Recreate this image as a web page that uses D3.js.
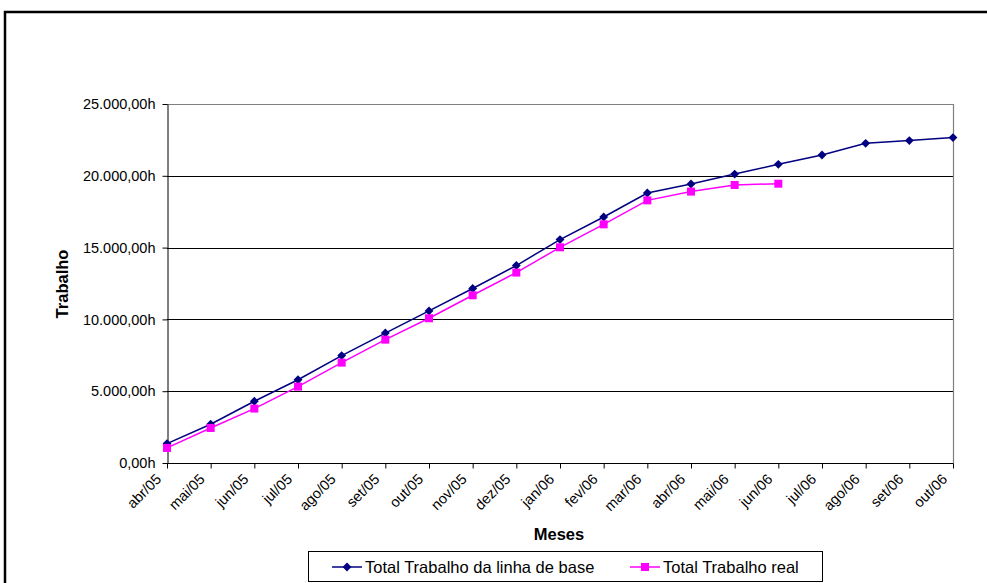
<!DOCTYPE html>
<html>
<head>
<meta charset="utf-8">
<script src="https://cdn.jsdelivr.net/npm/d3@7/dist/d3.min.js"></script>
<style>
  html, body { margin: 0; padding: 0; background: #fff; }
  svg { display: block; font-family: "Liberation Sans", Arial, sans-serif; }
</style>
</head>
<body>
<svg id="chart" width="987" height="583"></svg>
<script>
// Monthly cumulative work hours
const months = ["abr/05","mai/05","jun/05","jul/05","ago/05","set/05","out/05","nov/05","dez/05",
                "jan/06","fev/06","mar/06","abr/06","mai/06","jun/06","jul/06","ago/06","set/06","out/06"];
const baseline = [1350, 2700, 4300, 5800, 7480, 9050, 10590, 12150, 13750,
                  15560, 17130, 18800, 19430, 20120, 20800, 21450, 22260, 22450, 22660];
const actual = [1050, 2440, 3790, 5320, 6990, 8590, 10080, 11680, 13260,
                15020, 16620, 18290, 18900, 19360, 19450];
const yTicks = [0, 5000, 10000, 15000, 20000, 25000];
const seriesNames = ["Total Trabalho da linha de base", "Total Trabalho real"];

const svg = d3.select("#chart");

// outer frame
svg.append("rect").attr("x", 5).attr("y", 12).attr("width", 1000).attr("height", 600)
  .attr("fill", "none").attr("stroke", "#000").attr("stroke-width", 2.5);

const plotL = 167, plotR = 953, plotT = 104, plotB = 463;
const x = d3.scalePoint().domain(months).range([plotL, plotR]);
const y = d3.scaleLinear().domain([0, 25000]).range([plotB, plotT]);

const fmt = v => {
  const s = d3.format(",.2f")(v); // 25,000.00
  return s.replace(/,/g, "#").replace(".", ",").replace(/#/g, ".") + "h";
};

// gridlines
svg.append("g").selectAll("line").data(yTicks.filter(t => t > 0 && t < 25000)).join("line")
  .attr("x1", plotL).attr("x2", plotR)
  .attr("y1", d => Math.round(y(d)) + 0.5).attr("y2", d => Math.round(y(d)) + 0.5)
  .attr("stroke", "#000").attr("stroke-width", 1);

// plot area border (top & right)
svg.append("path")
  .attr("d", `M${plotL},${plotT + 0.5}H${plotR + 0.5}V${plotB}`)
  .attr("fill", "none").attr("stroke", "#808080").attr("stroke-width", 1.2);

// y axis
const yAxis = svg.append("g").attr("transform", `translate(${plotL + 0.5},0)`)
  .call(d3.axisLeft(y).tickValues(yTicks).tickFormat(fmt).tickSize(5).tickSizeOuter(0));
yAxis.select(".domain").attr("stroke", "#000");
yAxis.selectAll(".tick line").attr("stroke", "#000");
yAxis.selectAll(".tick text").attr("font-size", 14.5).attr("fill", "#000")
  .attr("font-family", "Liberation Sans, Arial, sans-serif").attr("x", -12);

// x axis
const xAxis = svg.append("g").attr("transform", `translate(0,${plotB + 0.5})`)
  .call(d3.axisBottom(x).tickSize(5).tickSizeOuter(0));
xAxis.select(".domain").attr("stroke", "#000").attr("d", `M${plotL},0H${plotR + 0.5}`);
xAxis.selectAll(".tick line").attr("stroke", "#000");
xAxis.selectAll(".tick text")
  .attr("font-size", 14.5).attr("fill", "#000")
  .attr("font-family", "Liberation Sans, Arial, sans-serif")
  .attr("text-anchor", "end")
  .attr("transform", "translate(-9,13) rotate(-45)")
  .attr("x", 0).attr("y", 0).attr("dy", "0.35em");

// axis titles
svg.append("text").attr("x", 559).attr("y", 540).attr("text-anchor", "middle")
  .attr("font-size", 16.5).attr("font-weight", "bold").text("Meses");
svg.append("text").attr("transform", "translate(68,284) rotate(-90)").attr("text-anchor", "middle")
  .attr("font-size", 16.5).attr("font-weight", "bold").text("Trabalho");

const line = d3.line().x((d, i) => x(months[i])).y(d => y(d));
const navy = "#000080", magenta = "#FF00FF";

svg.append("path").datum(baseline).attr("d", line)
  .attr("fill", "none").attr("stroke", navy).attr("stroke-width", 1.5);
svg.append("path").datum(actual).attr("d", line)
  .attr("fill", "none").attr("stroke", magenta).attr("stroke-width", 1.5);

const diamond = d3.symbol().type(d3.symbolDiamond2).size(50);
svg.append("g").selectAll("path").data(baseline).join("path")
  .attr("transform", (d, i) => `translate(${x(months[i])},${y(d)})`)
  .attr("d", diamond).attr("fill", navy);
svg.append("g").selectAll("rect").data(actual).join("rect")
  .attr("x", (d, i) => x(months[i]) - 4).attr("y", d => y(d) - 4)
  .attr("width", 8).attr("height", 8).attr("fill", magenta);

// legend
const lg = svg.append("g");
lg.append("rect").attr("x", 308.5).attr("y", 551.5).attr("width", 514).attr("height", 30)
  .attr("fill", "#fff").attr("stroke", "#000").attr("stroke-width", 1);
const items = [
  { name: seriesNames[0], color: navy, sym: "d", x0: 332 },
  { name: seriesNames[1], color: magenta, sym: "s", x0: 630 }
];
items.forEach(it => {
  const cy = 567;
  lg.append("line").attr("x1", it.x0).attr("x2", it.x0 + 30).attr("y1", cy).attr("y2", cy)
    .attr("stroke", it.color).attr("stroke-width", 1.5);
  if (it.sym === "d") {
    lg.append("path").attr("transform", `translate(${it.x0 + 15},${cy})`).attr("d", diamond).attr("fill", it.color);
  } else {
    lg.append("rect").attr("x", it.x0 + 11).attr("y", cy - 4).attr("width", 8).attr("height", 8).attr("fill", it.color);
  }
  lg.append("text").attr("x", it.x0 + 33).attr("y", cy).attr("dy", "0.35em")
    .attr("font-size", 16.5).attr("fill", "#000").text(it.name);
});
</script>
</body>
</html>
